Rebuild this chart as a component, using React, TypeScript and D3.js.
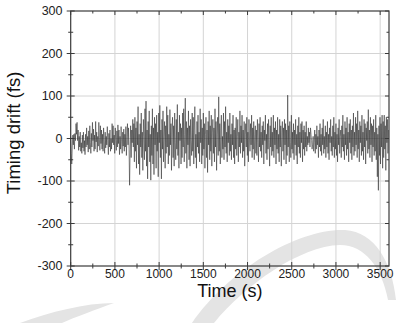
import React from "react";
import * as d3 from "d3";

// timing drift samples (fs), one every 6 s from 0 s
const drift: number[] = [
  5, -35, -60, -20, 8, -15, 10, -25, 12, -5,
  35, 10, 38, -5, 20, -28, 5, -20, 15, -30,
  -10, -35, 8, -22, 15, -30, -5, -38, 10, -20,
  25, -15, 5, -32, 18, -25, 30, -10, -35, 12,
  -20, 38, -5, 22, -30, 8, -25, 40, -8, 15,
  -32, 5, -18, 38, 2, -28, 30, -12, 20, -25,
  10, -30, 25, -8, -35, 15, -22, 5, -15, 28,
  -5, -38, 12, -20, 20, -30, 0, -25, 35, -10,
  30, -15, 8, -35, 25, -5, -28, 18, -20, 32,
  -12, 20, -38, 5, -25, 28, -8, -35, 15, -18,
  22, -30, 10, -20, 28, -40, 5, 35, -15, 25,
  -25, -110, -30, 30, -45, 20, -10, 45, -20, 35,
  -55, 50, -30, 25, -70, 40, -15, 75, -60, 10,
  -85, 35, -20, 60, -45, 15, -75, 45, 5, -50,
  70, -30, 88, -65, 20, -95, 40, -20, 65, -55,
  10, -98, 30, -40, 70, -60, 25, -85, 50, -15,
  35, -70, 55, -30, 15, -90, 60, -10, 78, -45,
  20, -95, 45, -25, 65, -55, 5, 40, -70, 30,
  -35, 75, -20, 55, -60, 10, -40, 68, -15, 35,
  -75, 20, 50, -45, 30, -65, 60, -10, -50, 45,
  -25, 80, -40, 15, -70, 55, -5, 35, -60, 25,
  -45, 60, -20, 70, -55, 10, 95, -35, 40, -70,
  25, -15, 65, -50, 30, -65, 45, -5, -40, 60,
  -30, 50, -60, 20, 75, -45, 10, -70, 40, -20,
  55, -35, 15, -55, 70, -10, 45, -60, 25, -40,
  60, -25, 35, -70, 10, 50, -45, 20, -80, 40,
  -15, 65, -50, 30, -30, 55, -65, 15, 45, -35,
  25, -55, 70, -20, 40, -75, 10, 50, -40, 98,
  -30, 35, -60, 20, 55, -45, 5, -25, 60, -50,
  40, -20, 75, -35, 15, -55, 45, -10, 30, -40,
  60, -30, 10, -50, 35, -15, 55, -45, 20, -60,
  25, -25, 50, -40, 5, 45, -55, 15, -20, 65,
  -35, 30, -10, 55, -45, 20, -30, 40, -65, 10,
  35, -20, 50, -40, 15, -55, 45, 0, -30, 35,
  -15, 55, -45, 25, -25, 40, -50, 10, 30, -35,
  20, -40, 45, -10, -55, 35, -20, 50, -30, 15,
  -45, 30, -15, 40, -60, 20, -5, 55, -35, 10,
  -50, 35, -25, 45, -10, -65, 30, -20, 50, -40,
  15, -30, 55, -45, 25, -15, 40, -60, 20, -25,
  50, -35, 10, -55, 45, -20, 30, -65, 15, 40,
  -30, 25, -50, 45, -15, 35, -60, 20, -40, 102,
  -20, 30, -55, 40, -10, -45, 55, -25, 15, -35,
  35, -50, 20, -15, 45, -40, 10, -60, 30, -20,
  50, -35, 15, -45, 35, -10, 40, -55, 20, -25,
  30, -40, 15, -20, 40, -30, 5, -15, 25, -10,
  15, -20, 25, 10, -5, -25, -15, 5, -30, -10,
  20, -35, 10, -25, 30, -15, 5, -45, 20, -20,
  35, -30, 10, -40, 25, -15, 45, -35, 5, -25,
  30, -45, 15, -20, 40, -35, 10, -50, 25, -10,
  45, -30, 5, -40, 30, -20, 50, -45, 15, -25,
  35, -40, 10, -55, 25, -15, 45, -35, 5, 20,
  -45, 30, -20, 55, -30, 10, -50, 40, -15, 25,
  -40, 50, -25, 15, -55, 35, -10, 45, -35, 20,
  -50, 30, -20, 60, -40, 15, -30, 50, -15, 35,
  -45, 65, -25, 20, -55, 40, -10, 30, -40, 55,
  -30, 15, -50, 45, -20, 35, -60, 25, -5, 40,
  -35, 68, -25, 20, -45, 50, -15, 35, -55, 30,
  -20, 45, -40, 15, -30, 55, -50, 25, -90, 10,
  -122, 30, -40, 50, -60, 35, -20, 55, -70, 40,
  -45, 55, -25, 30, -75, 50, -10, 45, -35, 20,
];
const step = 6;

const xTicks = [0, 500, 1000, 1500, 2000, 2500, 3000, 3500];
const xMinor = [250, 750, 1250, 1750, 2250, 2750, 3250];
const yTicks = [-300, -200, -100, 0, 100, 200, 300];
const yMinor = [-250, -150, -50, 50, 150, 250];

const W = 404, H = 323;
const left = 70.7, right = 389, top = 11, bottom = 266;
const font = "Arial, 'Liberation Sans', sans-serif";
const axisColor = "#3a3a3a";
const gridColor = "#d4d4d4";

export default function App() {
  const x = d3.scaleLinear().domain([0, 3600]).range([left, right]);
  const y = d3.scaleLinear().domain([-300, 300]).range([bottom, top]);
  const line = d3
    .line<number>()
    .x((_, i) => x(i * step))
    .y((d) => y(d));

  return (
    <svg width={W} height={H} style={{ position: "absolute", left: 0, top: 0, background: "#fff" }}>
      {/* faint watermark swoosh */}
      <path d="M20 323 C50 312 85 303 114 303 C95 310 75 317 62 323 Z" fill="#e4e4e4" />
      <path
        d="M192 323 C230 268 300 228 345 230 C375 232 392 262 396 300 L388 300 C382 268 365 245 340 245 C300 246 245 285 214 323 Z"
        fill="#e4e4e4"
      />

      {/* grid */}
      {xTicks.slice(1).map((t) => (
        <line key={"gx" + t} x1={x(t)} x2={x(t)} y1={top} y2={bottom} stroke={gridColor} strokeWidth={1} />
      ))}
      {yTicks.slice(1, -1).map((t) => (
        <line key={"gy" + t} x1={left} x2={right} y1={y(t)} y2={y(t)} stroke={gridColor} strokeWidth={1} />
      ))}

      {/* series */}
      <path d={line(drift) ?? ""} fill="none" stroke="#2a2a2a" strokeWidth={0.55} strokeLinejoin="round" />

      {/* frame */}
      <rect x={left} y={top} width={right - left} height={bottom - top} fill="none" stroke={axisColor} strokeWidth={1.2} />

      {/* bottom / top ticks */}
      {xTicks.map((t) => (
        <g key={"tx" + t}>
          <line x1={x(t)} x2={x(t)} y1={bottom - 4} y2={bottom + 4} stroke={axisColor} strokeWidth={1} />
          <line x1={x(t)} x2={x(t)} y1={top} y2={top + 4} stroke={axisColor} strokeWidth={1} />
          <text x={x(t)} y={277.5} fontSize={12} fontFamily={font} textAnchor="middle" fill="#222">
            {t}
          </text>
        </g>
      ))}
      {xMinor.map((t) => (
        <g key={"mx" + t}>
          <line x1={x(t)} x2={x(t)} y1={bottom - 2.5} y2={bottom + 2.5} stroke={axisColor} strokeWidth={1} />
          <line x1={x(t)} x2={x(t)} y1={top} y2={top + 2.5} stroke={axisColor} strokeWidth={1} />
        </g>
      ))}

      {/* left / right ticks */}
      {yTicks.map((t) => (
        <g key={"ty" + t}>
          <line x1={left - 4} x2={left + 4} y1={y(t)} y2={y(t)} stroke={axisColor} strokeWidth={1} />
          <line x1={right - 4} x2={right} y1={y(t)} y2={y(t)} stroke={axisColor} strokeWidth={1} />
          <text x={62.5} y={y(t) + 4.3} fontSize={12.5} fontFamily={font} textAnchor="end" fill="#222">
            {t}
          </text>
        </g>
      ))}
      {yMinor.map((t) => (
        <g key={"my" + t}>
          <line x1={left - 2.5} x2={left + 2.5} y1={y(t)} y2={y(t)} stroke={axisColor} strokeWidth={1} />
          <line x1={right - 2.5} x2={right} y1={y(t)} y2={y(t)} stroke={axisColor} strokeWidth={1} />
        </g>
      ))}

      {/* axis titles */}
      <text x={(left + right) / 2} y={297} fontSize={18} fontFamily={font} textAnchor="middle" fill="#111">
        Time (s)
      </text>
      <text
        transform="translate(19.5,133) rotate(-90)"
        fontSize={18.5}
        fontFamily={font}
        textAnchor="middle"
        fill="#111"
      >
        Timing drift (fs)
      </text>
    </svg>
  );
}
